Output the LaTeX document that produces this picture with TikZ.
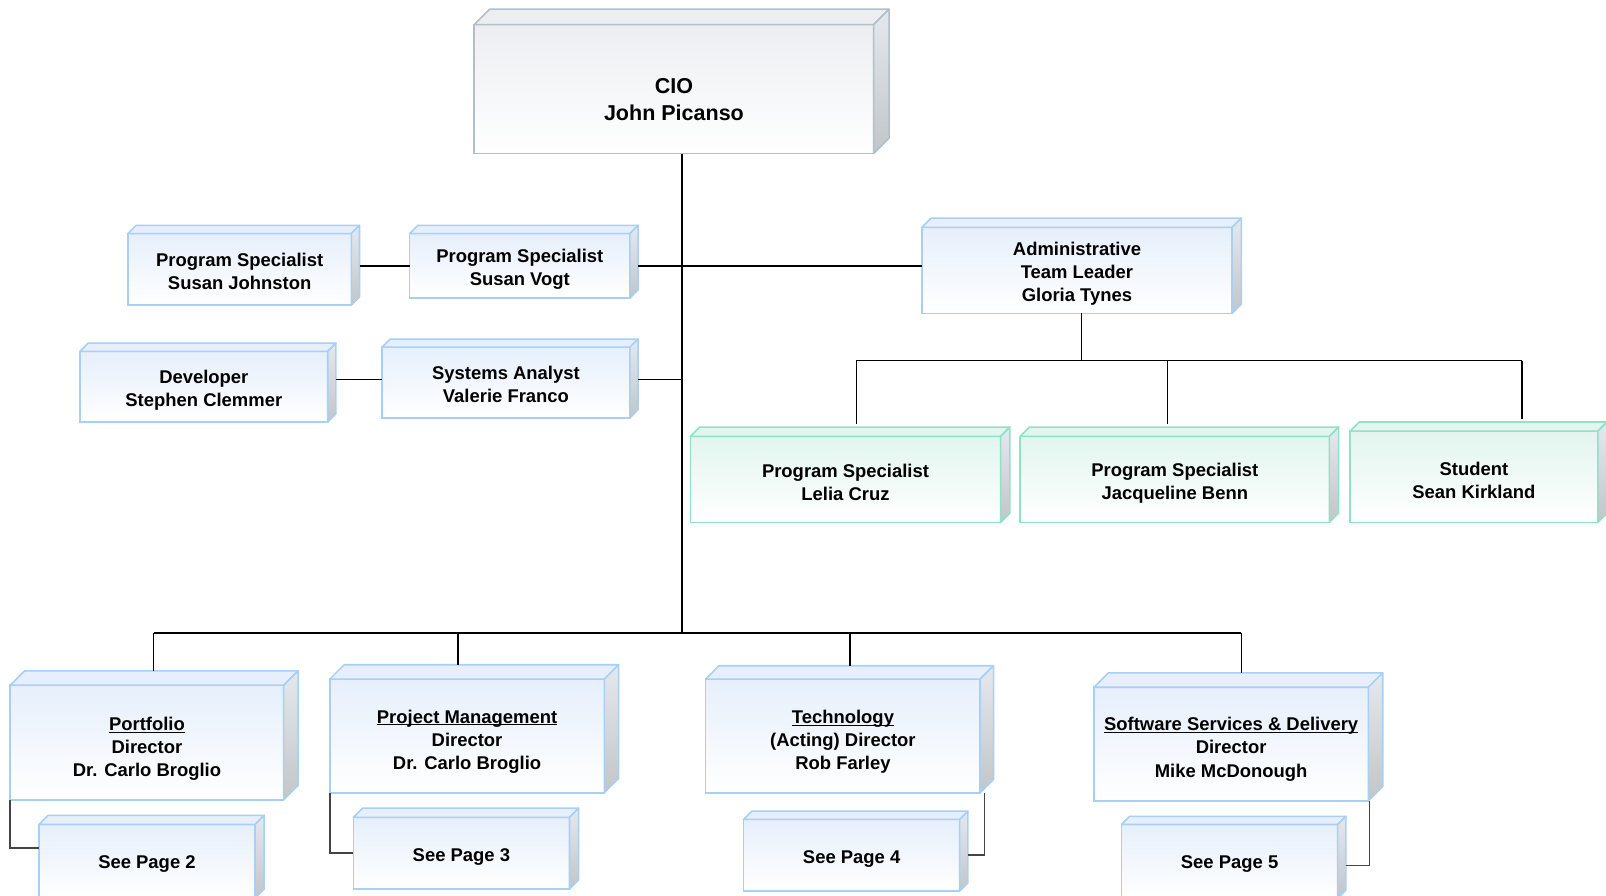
\documentclass[tikz,border=0pt]{standalone}
\usepackage{fontspec}
\setmainfont{Liberation Sans}
\usetikzlibrary{calc}

\definecolor{bluerim}{HTML}{A8CFF5}
\definecolor{bluefill}{HTML}{E6EFFB}
\definecolor{greenrim}{HTML}{8EE2C6}
\definecolor{greenfill}{HTML}{E2F5EE}
\definecolor{grayrim}{HTML}{B2BFC9}
\definecolor{grayfill}{HTML}{ECEEF1}
\definecolor{sidetop}{HTML}{E4E9EF}
\definecolor{sidebot}{HTML}{C3C5C7}
\definecolor{elbowgray}{HTML}{444444}

\newcommand{\unitname}[1]{\underline{\raisebox{0pt}[\height][0pt]{#1}}}

\tikzset{
  orgbox/.style={draw, line width=1.5pt, outer sep=0pt, inner sep=0pt},
  bluebox/.style={orgbox, draw=bluerim, top color=bluefill, bottom color=white},
  greenbox/.style={orgbox, draw=greenrim, top color=greenfill, bottom color=white},
  graybox/.style={orgbox, draw=grayrim, top color=grayfill, bottom color=white},
  boxtext/.style={inner sep=0pt, align=center, font=\bfseries\fontsize{18}{22.5}\selectfont},
  wire/.style={black, line width=1.5pt},
  elbow/.style={elbowgray, line width=1.5pt},
}

\begin{document}
\begin{tikzpicture}[x=1pt,y=-1pt]
\useasboundingbox (0,0) rectangle (1568,874);

% top
\node[graybox, minimum width=390pt, minimum height=126pt] (cio) at (658,87) {};
\node[boxtext, font=\bfseries\fontsize{21}{26}\selectfont] (ciotext) at ($(cio)+(0,10)$) {CIO\\John Picanso};

% staff
\node[bluebox, minimum width=218pt, minimum height=70pt] (johnston) at (234,263) {};
\node[bluebox, minimum width=215pt, minimum height=63pt] (vogt) at (507.5,259.5) {};
\node[bluebox, minimum width=242pt, minimum height=69pt] (clemmer) at (199,377.5) {};
\node[bluebox, minimum width=242pt, minimum height=69pt] (franco) at (494,373.5) {};
\node[bluebox, minimum width=303pt, minimum height=84pt] (admin) at (1051.5,264) {};
\node[boxtext] (johnstontext) at ($(johnston)+(0,2)$) {Program Specialist\\Susan Johnston};
\node[boxtext] (vogttext) at ($(vogt)+(0,3)$) {Program Specialist\\Susan Vogt};
\node[boxtext] (clemmertext) at ($(clemmer)+(0,3.5)$) {Developer\\Stephen Clemmer};
\node[boxtext] (francotext) at ($(franco)+(0,2)$) {Systems Analyst\\Valerie Franco};
\node[boxtext] (admintext) at ($(admin)+(0,3)$) {Administrative\\Team Leader\\Gloria Tynes};

\node[greenbox, minimum width=303pt, minimum height=84pt] (cruz) at (825.5,468) {};
\node[greenbox, minimum width=302pt, minimum height=84pt] (benn) at (1147,468) {};
\node[greenbox, minimum width=242pt, minimum height=89pt] (kirkland) at (1439,465.5) {};
\node[boxtext] (cruztext) at ($(cruz)+(0,3)$) {Program Specialist\\Lelia Cruz};
\node[boxtext] (benntext) at ($(benn)+(0,3.5)$) {Program Specialist\\Jacqueline Benn};
\node[boxtext] (kirklandtext) at ($(kirkland)+(0,3.5)$) {Student\\Sean Kirkland};

% directors
\node[bluebox, minimum width=267pt, minimum height=112pt] (portfolio) at (143.5,725) {};
\node[bluebox, minimum width=268pt, minimum height=111pt] (projmgmt) at (456,718.5) {};
\node[bluebox, minimum width=268pt, minimum height=111pt] (technology) at (823,718.5) {};
\node[bluebox, minimum width=268pt, minimum height=111pt] (software) at (1202,726.5) {};
\node[boxtext] (portfoliotext) at ($(portfolio)+(0,6)$) {\unitname{Portfolio}\\Director\\Dr. Carlo Broglio};
\node[boxtext] (projmgmttext) at ($(projmgmt)+(0,5.5)$) {\unitname{Project Management}\\Director\\Dr. Carlo Broglio};
\node[boxtext] (technologytext) at ($(technology)+(0,5.5)$) {\unitname{Technology}\\(Acting) Director\\Rob Farley};
\node[boxtext] (softwaretext) at ($(software)+(0,5)$) {\unitname{Software Services \& Delivery}\\Director\\Mike McDonough};

\node[bluebox, minimum width=211pt, minimum height=72pt] (page2) at (143.5,841) {};
\node[bluebox, minimum width=211pt, minimum height=70pt] (page3) at (450.5,833) {};
\node[bluebox, minimum width=211pt, minimum height=70pt] (page4) at (831.5,835) {};
\node[bluebox, minimum width=211pt, minimum height=72pt] (page5) at (1200.5,841) {};
\node[boxtext] (page2text) at ($(page2)+(0,3)$) {See Page 2};
\node[boxtext] (page3text) at ($(page3)+(0,4)$) {See Page 3};
\node[boxtext] (page4text) at ($(page4)+(0,4)$) {See Page 4};
\node[boxtext] (page5text) at ($(page5)+(0,3)$) {See Page 5};

% 3d sides
\foreach \n/\d/\rim/\face in {cio/15/grayrim/grayfill, johnston/8/bluerim/bluefill, vogt/8/bluerim/bluefill,
    clemmer/8/bluerim/bluefill, franco/8/bluerim/bluefill, admin/9/bluerim/bluefill,
    cruz/9/greenrim/greenfill, benn/9/greenrim/greenfill, kirkland/9/greenrim/greenfill,
    portfolio/14/bluerim/bluefill, projmgmt/14/bluerim/bluefill, technology/13/bluerim/bluefill,
    software/14/bluerim/bluefill, page2/9/bluerim/bluefill, page3/9/bluerim/bluefill,
    page4/8/bluerim/bluefill, page5/8/bluerim/bluefill} {
  \draw[draw=\rim, line width=1.5pt, line join=round, fill=\face]
    (\n.north west) -- ++(\d,-\d) -- ($(\n.north east)+(\d,-\d)$) -- (\n.north east) -- cycle;
  \draw[draw=\rim, line width=1.5pt, line join=round, top color=sidetop, bottom color=sidebot]
    (\n.north east) -- ++(\d,-\d) -- ($(\n.south east)+(\d,-\d)$) -- (\n.south east) -- cycle;
}

% trunk
\coordinate (bus) at (666,618);
\draw[wire] (cio.south -| bus) -- (bus);

\coordinate (vogtside) at ($(vogt.east)+(8,0)$);
\draw[wire] (vogtside) -- (vogtside -| admin.west);
\draw[wire] ($(vogt.west -| johnston.east)+(8,0)$) -- (vogt.west);

\coordinate (francoside) at ($(franco.east)+(8,-3)$);
\draw[wire] (francoside) -- (francoside -| bus);
\draw[wire] ($(franco.west -| clemmer.east)+(8,-3)$) -- ($(franco.west)+(0,-3)$);

% admin team
\coordinate (adminbus) at (1056,352);
\coordinate (subl) at (836,352);
\coordinate (subm) at (1140,352);
\coordinate (subr) at (1486,352);
\draw[wire] (admin.south -| adminbus) -- (adminbus);
\draw[wire] (subl) -- (subr);
\draw[wire] (subl) -- ($(subl |- cruz.north)+(0,-12)$);
\draw[wire] (subm) -- ($(subm |- benn.north)+(0,-12)$);
\draw[wire] (subr) -- ($(subr |- kirkland.north)+(0,-12)$);

% directors
\coordinate (busl) at (150,618);
\coordinate (busa) at (447,618);
\coordinate (busb) at (830,618);
\coordinate (busr) at (1212,618);
\draw[wire] (busl) -- (busr);
\draw[wire] (busl) -- ($(busl |- portfolio.north)+(0,-14)$);
\draw[wire] (busa) -- ($(busa |- projmgmt.north)+(0,-14)$);
\draw[wire] (busb) -- ($(busb |- technology.north)+(0,-13)$);
\draw[wire] (busr) -- ($(busr |- software.north)+(0,-14)$);

% see page links
\draw[elbow] (portfolio.south west) |- ($(page2.west)+(0,-13)$);
\draw[elbow] (projmgmt.south west) |- (page3.west);
\draw[elbow] ($(technology.south east)+(4,0)$) |- ($(page4.east)+(8,0)$);
\draw[elbow] ($(software.south east)+(1,0)$) |- ($(page5.east)+(8,4)$);

\end{tikzpicture}
\end{document}
